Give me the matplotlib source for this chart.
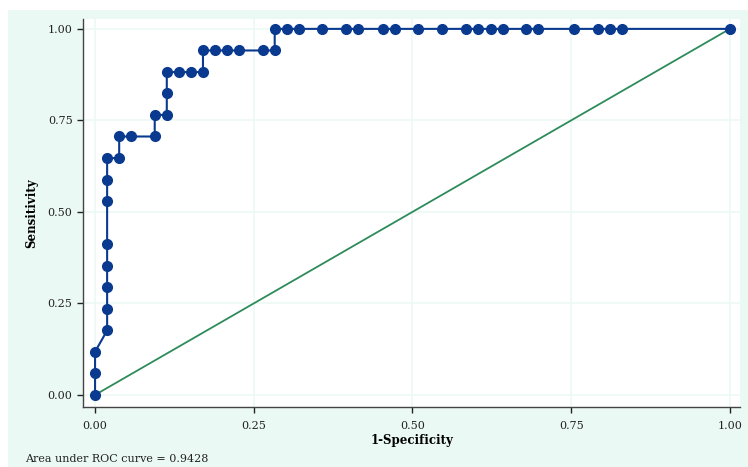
import matplotlib.pyplot as plt
from matplotlib.patches import Rectangle

# ROC curve points (1-specificity, sensitivity)
fpr = [0.0, 0.0, 0.0, 0.019, 0.019, 0.019, 0.019, 0.019, 0.019, 0.019, 0.019,
       0.038, 0.038, 0.057, 0.094, 0.094, 0.113, 0.113, 0.113, 0.132, 0.151,
       0.170, 0.170, 0.189, 0.208, 0.226, 0.264, 0.283, 0.283,
       0.302, 0.321, 0.358, 0.396, 0.415, 0.453, 0.472, 0.509, 0.547, 0.585,
       0.604, 0.623, 0.642, 0.679, 0.698, 0.755, 0.792, 0.811, 0.830, 1.0]
tpr = [0.0, 0.059, 0.118, 0.176, 0.235, 0.294, 0.353, 0.412, 0.529, 0.588, 0.647,
       0.647, 0.706, 0.706, 0.706, 0.765, 0.765, 0.824, 0.882, 0.882, 0.882,
       0.882, 0.941, 0.941, 0.941, 0.941, 0.941, 0.941, 1.0,
       1.0, 1.0, 1.0, 1.0, 1.0, 1.0, 1.0, 1.0, 1.0, 1.0,
       1.0, 1.0, 1.0, 1.0, 1.0, 1.0, 1.0, 1.0, 1.0, 1.0]
ref_line = [0.0, 1.0]
ticks = [0.0, 0.25, 0.5, 0.75, 1.0]
tick_labels = ["0.00", "0.25", "0.50", "0.75", "1.00"]
auc_text = "Area under ROC curve = 0.9428"

plt.rcParams['font.family'] = ['DejaVu Serif']

W, H = 748, 467
fig = plt.figure(figsize=(W / 100, H / 100), dpi=100, facecolor='white')
fig.patches.append(Rectangle((8 / W, 0), 1, 1 - 10 / H, transform=fig.transFigure,
                             facecolor='#ebf9f5', edgecolor='none', zorder=-10))

# axes box in pixels: left 83, right 740, top 19, bottom 407
ax = fig.add_axes([83 / W, 1 - 407 / H, (740 - 83) / W, (407 - 19) / H])
ax.set_zorder(1)
ax.set_facecolor('white')
ax.set_xlim(-0.019, 1.016)
ax.set_ylim(-0.033, 1.027)

for t in ticks:
    ax.axhline(t, color='#ecf8f4', lw=1.2, zorder=0)
    ax.axvline(t, color='#ecf8f4', lw=1.2, zorder=0)

ax.plot(ref_line, ref_line, color='#2e8b5a', lw=1.3, zorder=2)
ax.plot(fpr, tpr, color='#0a3a8f', lw=1.5, marker='o', markersize=7,
        markerfacecolor='#0a3a8f', markeredgecolor='#0a3a8f', zorder=3, clip_on=False)

for s in ['top', 'right']:
    ax.spines[s].set_visible(False)
for s in ['left', 'bottom']:
    ax.spines[s].set_color('#444444')
    ax.spines[s].set_linewidth(1.0)

ax.set_xticks(ticks)
ax.set_xticklabels(tick_labels)
ax.set_yticks(ticks)
ax.set_yticklabels(tick_labels)
ax.tick_params(axis='both', labelsize=8, colors='#222222', length=4, width=1)
ax.tick_params(axis='x', pad=6)

ax.set_xlabel("1-Specificity", fontsize=8.5, fontweight='bold', labelpad=2)
ax.set_ylabel("Sensitivity", fontsize=8.5, fontweight='bold', labelpad=7)

fig.text(25 / W, 1 - 462 / H, auc_text, fontsize=8, ha='left', va='baseline', color='#222222')

fig.savefig("out.png", dpi=100, facecolor=fig.get_facecolor())
